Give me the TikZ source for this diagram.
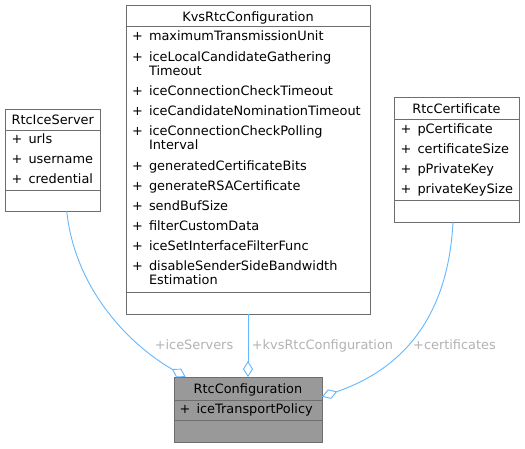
\documentclass[tikz,border=0pt]{standalone}
\usepackage{fontspec}
\setmainfont{DejaVu Sans}
\usetikzlibrary{arrows.meta}
\definecolor{edgeblue}{HTML}{63B8FF}
\definecolor{boxline}{HTML}{6E6E6E}
\definecolor{cfgfill}{HTML}{999999}
\definecolor{lblgray}{HTML}{B3B3B3}
\newcommand\pl{+\hspace{6pt}}
\newcommand\plind{\hphantom{+\hspace{6pt}}}
\begin{document}
\begin{tikzpicture}[x=1pt,y=-1pt,
 font=\fontsize{12.9}{14.5}\selectfont,
 cls/.style={draw=boxline, line width=0.9pt, inner sep=0pt, outer sep=0pt, anchor=north west},
 sepline/.style={draw=boxline, line width=0.9pt},
 ttl/.style={anchor=base, inner sep=0pt},
 attr/.style={anchor=base west, inner sep=0pt},
 edge/.style={draw=edgeblue, line width=0.9pt, -{Diamond[open, length=16pt, width=10pt]}},
 elabel/.style={anchor=base, inner sep=0pt, text=lblgray}]
\useasboundingbox[fill=white] (0,0) rectangle (525,448);

% RtcIceServer
\node[cls, minimum width=95.5pt, minimum height=102pt] (ice) at (5,109) {};
\node[ttl] (ice-t) at (52.75,124) {RtcIceServer};
\draw[sepline] (ice.west |- 0,130) -- (ice.east |- 0,130);
\draw[sepline] (ice.west |- 0,190) -- (ice.east |- 0,190);
\node[attr] (ice-a1) at (11.5,143.3) {\pl urls};
\node[attr] (ice-a2) at (11.5,163.3) {\pl username};
\node[attr] (ice-a3) at (11.5,183) {\pl credential};

% KvsRtcConfiguration
\node[cls, minimum width=244pt, minimum height=309pt] (kvs) at (126,5) {};
\node[ttl] (kvs-t) at (248,21) {KvsRtcConfiguration};
\draw[sepline] (kvs.west |- 0,26) -- (kvs.east |- 0,26);
\draw[sepline] (kvs.west |- 0,292) -- (kvs.east |- 0,292);
\node[attr] (kvs-a1) at (132,40) {\pl maximumTransmissionUnit};
\node[attr] (kvs-a2) at (132,61) {\pl iceLocalCandidateGathering};
\node[attr] (kvs-a2b) at (132,75.5) {\plind Timeout};
\node[attr] (kvs-a3) at (132,95) {\pl iceConnectionCheckTimeout};
\node[attr] (kvs-a4) at (132,115) {\pl iceCandidateNominationTimeout};
\node[attr] (kvs-a5) at (132,135) {\pl iceConnectionCheckPolling};
\node[attr] (kvs-a5b) at (132,149.5) {\plind Interval};
\node[attr] (kvs-a6) at (132,170) {\pl generatedCertificateBits};
\node[attr] (kvs-a7) at (132,190) {\pl generateRSACertificate};
\node[attr] (kvs-a8) at (132,210) {\pl sendBufSize};
\node[attr] (kvs-a9) at (132,230) {\pl filterCustomData};
\node[attr] (kvs-a10) at (132,250) {\pl iceSetInterfaceFilterFunc};
\node[attr] (kvs-a11) at (132,270) {\pl disableSenderSideBandwidth};
\node[attr] (kvs-a11b) at (132,284.5) {\plind Estimation};

% RtcCertificate
\node[cls, minimum width=125pt, minimum height=125pt] (cert) at (394,97) {};
\node[ttl] (cert-t) at (456.5,113) {RtcCertificate};
\draw[sepline] (cert.west |- 0,119) -- (cert.east |- 0,119);
\draw[sepline] (cert.west |- 0,200) -- (cert.east |- 0,200);
\node[attr] (cert-a1) at (400.5,133.3) {\pl pCertificate};
\node[attr] (cert-a2) at (400.5,153.3) {\pl certificateSize};
\node[attr] (cert-a3) at (400.5,173.3) {\pl pPrivateKey};
\node[attr] (cert-a4) at (400.5,193.3) {\pl privateKeySize};

% RtcConfiguration
\node[cls, fill=cfgfill, minimum width=148pt, minimum height=65pt] (cfg) at (174,377) {};
\node[ttl] (cfg-t) at (248,393.3) {RtcConfiguration};
\draw[sepline] (cfg.west |- 0,400) -- (cfg.east |- 0,400);
\draw[sepline] (cfg.west |- 0,420) -- (cfg.east |- 0,420);
\node[attr] (cfg-a1) at (179.5,413.3) {\pl iceTransportPolicy};

% connectors
\draw[edge] (66.7,0 |- ice.south) .. controls (75,290) and (130,345) .. (185.7,0 |- cfg.north);
\draw[edge] (kvs.south) -- (cfg.north);
\draw[edge] (453,0 |- cert.south) .. controls (448,320) and (400,370) .. (cfg.east |- 0,396.7);

% labels
\node[elabel] (l1) at (194,349) {+iceServers};
\node[elabel] (l2) at (322.5,349) {+kvsRtcConfiguration};
\node[elabel] (l3) at (454.5,349) {+certificates};
\end{tikzpicture}
\end{document}
